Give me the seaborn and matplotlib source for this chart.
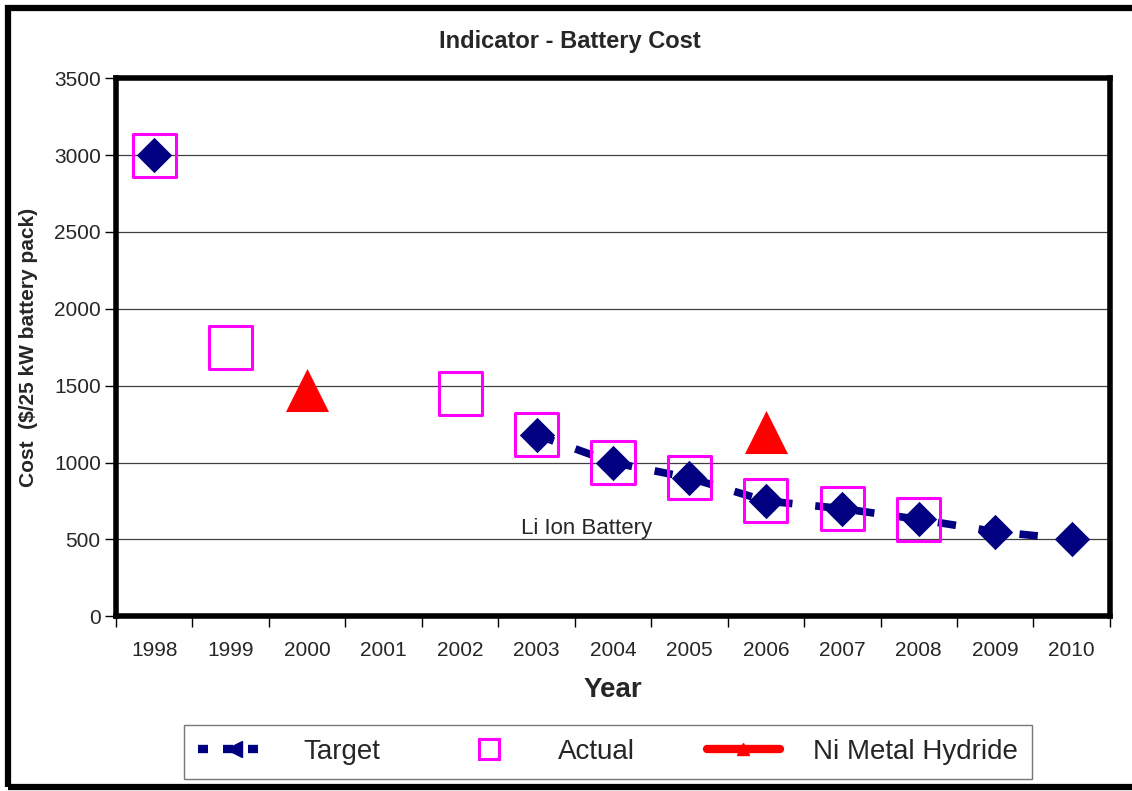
import numpy as np
import pandas as pd
import matplotlib.pyplot as plt
from matplotlib.lines import Line2D
from matplotlib.patches import Rectangle
import seaborn as sns

# Chart data
YEARS = ["1998", "1999", "2000", "2001", "2002", "2003", "2004",
         "2005", "2006", "2007", "2008", "2009", "2010"]
TARGET = [3000, np.nan, np.nan, np.nan, np.nan, 1180, 1000,
          900, 750, 700, 630, 550, 500]
ACTUAL = [3000, 1750, np.nan, np.nan, 1450, 1180, 1000,
          900, 750, 700, 630, np.nan, np.nan]
NIMH = [np.nan, np.nan, 1470, np.nan, np.nan, np.nan, np.nan,
        np.nan, 1200, np.nan, np.nan, np.nan, np.nan]
Y_TICKS = [0, 500, 1000, 1500, 2000, 2500, 3000, 3500]

NAVY = "#000080"
MAGENTA = "#FF00FF"
RED = "#FF0000"

sns.set_theme(style="white")
plt.rcParams["font.family"] = ["Liberation Sans", "DejaVu Sans"]

df = pd.DataFrame({"year": YEARS, "target": TARGET,
                   "actual": ACTUAL, "nimh": NIMH})
df["pos"] = np.arange(len(df))

fig = plt.figure(figsize=(11.32, 7.91), dpi=100)
ax = fig.add_axes([0.1025, 0.221, 0.878, 0.680])

# horizontal gridlines
for v in Y_TICKS[1:-1]:
    ax.axhline(v, color="#404040", lw=0.9, zorder=0)

# dashed target line: only across consecutive years with values
seg = df["target"].notna()
run = seg & (seg.shift(1, fill_value=False) | seg.shift(-1, fill_value=False))
line_df = df[run]
sns.lineplot(data=line_df, x="pos", y="target", ax=ax, color=NAVY, lw=5.5,
             linestyle=(0, (2.4, 3.0)), legend=False, zorder=2)

sns.scatterplot(data=df, x="pos", y="target", ax=ax, marker="D", s=18 ** 2,
                color=NAVY, edgecolor=NAVY, linewidth=0, zorder=3, legend=False)
sns.scatterplot(data=df, x="pos", y="actual", ax=ax, marker="s", s=31 ** 2,
                facecolor="none", edgecolor=MAGENTA, linewidth=2.2, zorder=4,
                legend=False)
sns.scatterplot(data=df, x="pos", y="nimh", ax=ax, marker="^", s=31 ** 2,
                color=RED, edgecolor=RED, linewidth=0, zorder=4, legend=False)

ax.text(5.65, 570, "Li Ion Battery", fontsize=16, ha="center", va="center")

ax.set_xlim(-0.5, len(YEARS) - 0.5)
ax.set_ylim(0, 3500)
ax.set_yticks(Y_TICKS)
ax.set_yticklabels([str(v) for v in Y_TICKS], fontsize=15)
ax.set_xticks(df["pos"])
ax.set_xticklabels(YEARS, fontsize=15)
ax.set_xticks(np.arange(-0.5, len(YEARS)), minor=True)
ax.tick_params(axis="x", which="major", length=0, pad=18)
ax.tick_params(axis="x", which="minor", length=8, width=1, color="black",
               direction="out", bottom=True)
ax.tick_params(axis="y", length=8, width=1, color="black", direction="out",
               left=True, pad=3)
for sp in ax.spines.values():
    sp.set_color("black")
    sp.set_linewidth(4)

ax.set_xlabel("Year", fontsize=20, fontweight="bold", labelpad=12)
ax.set_ylabel("Cost  ($/25 kW battery pack)", fontsize=15, fontweight="bold")
ax.yaxis.set_label_coords(-0.079, 0.5)
fig.text(0.5035, 0.947, "Indicator - Battery Cost", fontsize=17,
         fontweight="bold", ha="center", va="center")

# legend
handles = [
    Line2D([0], [0], color=NAVY, lw=6, linestyle=(0, (1.2, 1.8)),
           marker="<", ms=11, markevery=[1]),
    Line2D([0], [0], color=MAGENTA, lw=0, marker="s", ms=14,
           markerfacecolor="none", markeredgewidth=2.2),
    Line2D([0], [0], color=RED, lw=6, marker="^", ms=9),
]
leg = fig.legend(handles, ["Target", "Actual", "Ni Metal Hydride"],
                 loc="center", bbox_to_anchor=(0.537, 0.0495), ncol=3,
                 fontsize=20, frameon=True, fancybox=False, edgecolor="#555555",
                 handlelength=2.6, handletextpad=1.2, columnspacing=2.6,
                 borderpad=0.5)
leg.get_frame().set_linewidth(1)

# outer border of the chart
fig.patches.append(Rectangle((0.0075, 0.0045), 1.02, 0.985,
                             transform=fig.transFigure, fill=False,
                             edgecolor="black", lw=4.5))

fig.savefig("out.png", dpi=100)
